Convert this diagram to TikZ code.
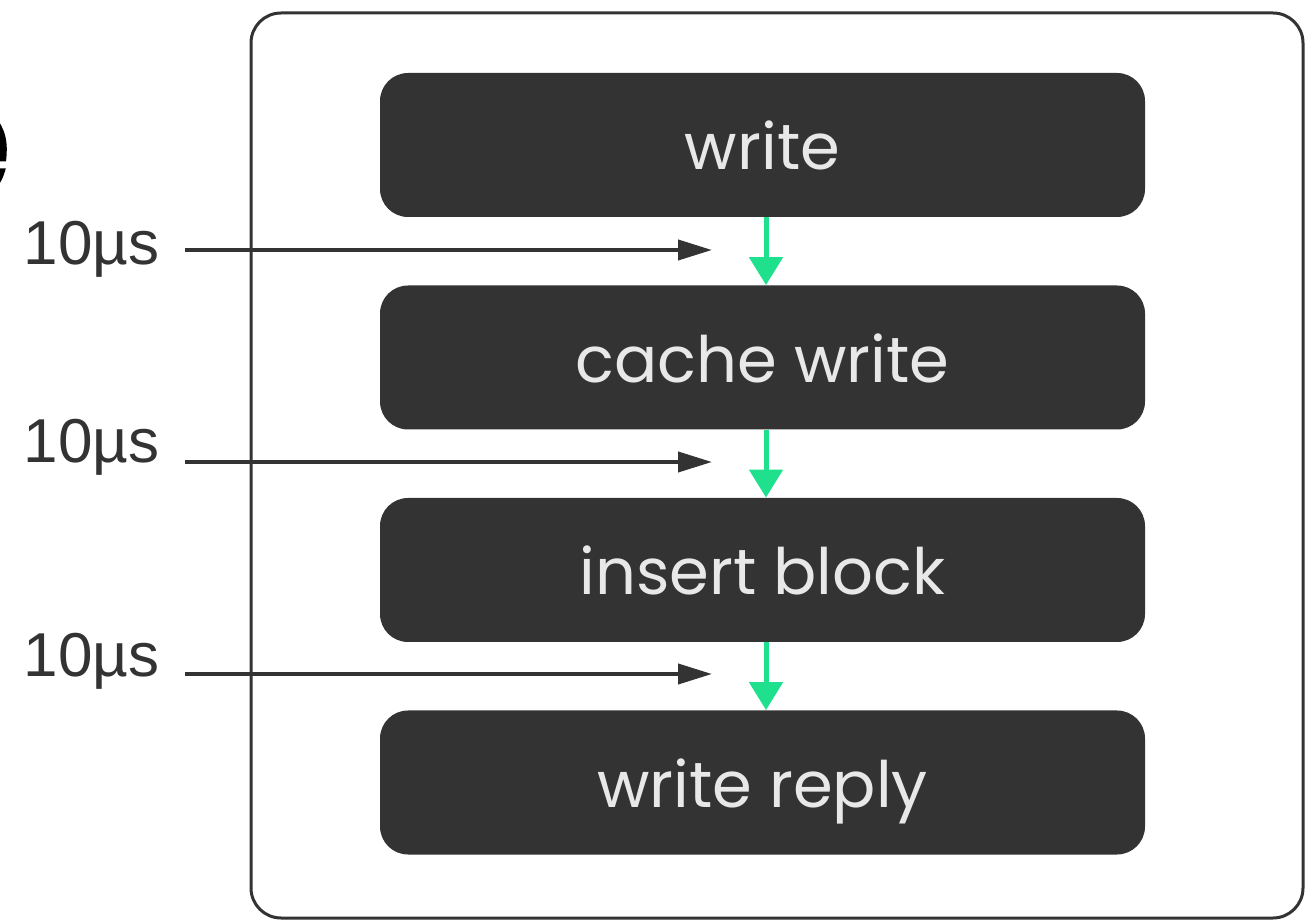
\documentclass[tikz,border=0pt]{standalone}
\usepackage{fontspec}
\setmainfont{Poppins}
\newfontfamily\lblfont{Liberation Sans}
\newfontfamily\ttlfont{Poppins}[FakeBold=3]
\usetikzlibrary{arrows.meta}
\definecolor{ink}{HTML}{333333}
\definecolor{pale}{HTML}{E8E8E8}
\definecolor{mint}{HTML}{1FE08C}
\tikzset{blk/.style={rectangle,fill=ink,text=pale,rounded corners=14pt,minimum width=382.5pt,
           minimum height=72pt,inner sep=0,font=\fontsize{32}{32}\selectfont,text height=25pt,text depth=0pt},
         hop/.style={mint,line width=2.5pt,-{Triangle[length=14pt,width=16.5pt]}},
         lat/.style={ink,line width=2pt,-{Triangle[length=17pt,width=10pt]}},
         lbl/.style={font=\lblfont\fontsize{31}{31}\selectfont,text=ink,anchor=base east,inner sep=0}}
\begin{document}
\begin{tikzpicture}[x=0.5pt,y=-0.5pt]
  \useasboundingbox (0,0) rectangle (1307,924);
  \node[font=\ttlfont\fontsize{86}{86}\selectfont,anchor=base east,inner sep=0] (ttl) at (12,200) {e};
  \draw[ink,line width=1.5pt,rounded corners=15pt] (251,13) rectangle (1303,918);
  \foreach \t [count=\i] in {write,cache write,insert block,write reply}
    \node[blk] (b\i) at (762.5,145+212.5*\i-212.5) {\t};
  \foreach \i/\j in {1/2,2/3,3/4}
    \draw[hop] ([xshift=1.75pt]b\i.south) -- ([xshift=1.75pt]b\j.north);
  \foreach \i/\ly in {1/265,2/463,3/676} {
    \coordinate (s\i) at (185,250+212*\i-212);
    \coordinate (t\i) at (712,250+212*\i-212);
    \node[lbl] (l\i) at (160,\ly) {10µs};
    \draw[lat] (s\i) -- (t\i);
  }
\end{tikzpicture}
\end{document}
